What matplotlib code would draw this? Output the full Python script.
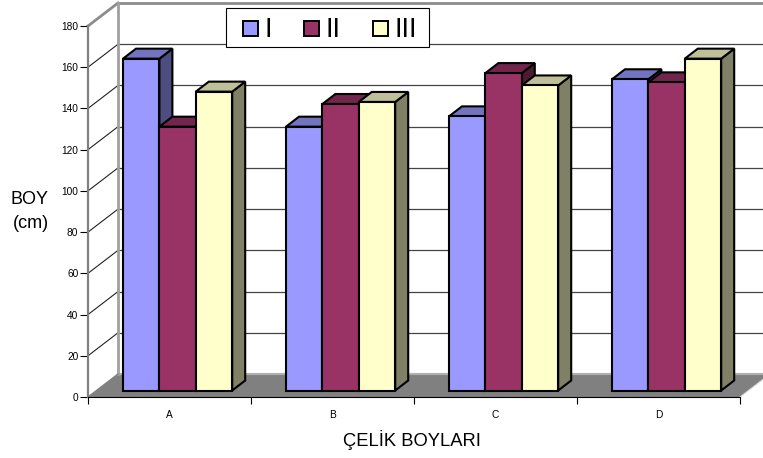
import matplotlib
matplotlib.use("Agg")
import matplotlib.pyplot as plt
from matplotlib.patches import Patch, Rectangle
from matplotlib.legend_handler import HandlerPatch

plt.rcParams['font.family'] = ['Liberation Sans', 'DejaVu Sans']

categories = ['A', 'B', 'C', 'D']
series_names = ['I', 'II', 'III']
values_I = [161, 128, 133, 151]
values_II = [128, 139, 154, 149.5]
values_III = [145, 140, 148, 161]
yticks = list(range(0, 181, 20))

front_colors = ['#9999FF', '#993366', '#FFFFCC']
top_colors = ['#7373BF', '#73264D', '#BFBF99']
side_colors = ['#4D4D80', '#4D1A33', '#808066']

W, H = 763, 458
X0, X1, Y0, Y180 = 88, 740, 397, 26
fig = plt.figure(figsize=(W / 100, H / 100), dpi=100, facecolor='white')
ax = fig.add_axes([X0 / W, 1 - Y0 / H, (X1 - X0) / W, (Y0 - Y180) / H])
ax.set_xlim(0, 4)
ax.set_ylim(0, 180)
ax.set_facecolor('none')

ux = (X1 - X0) / 4          # px per category
uy = (Y0 - Y180) / 180      # px per value unit
wall_dx, wall_dy = 30 / ux, 23 / uy
bar_dx, bar_dy = 13 / ux, 10 / uy
base_x, base_y = 8.5 / ux, 6.5 / uy
bar_w = 36.4 / ux
first = 35 / ux
right = 4 + wall_dx

# walls, floor and gridlines
ax.fill([0, wall_dx, right, 4, 0], [0, wall_dy, wall_dy, 0, 0], color='#808080', lw=0, clip_on=False, zorder=1)
ax.plot([wall_dx, right], [wall_dy, wall_dy], color='#B0B0B0', lw=1.5, clip_on=False, zorder=1.5)
for t in yticks[1:-1]:
    ax.plot([0, wall_dx], [t, t + wall_dy], color='#222222', lw=0.8, clip_on=False, zorder=1.2)
    ax.plot([wall_dx, right], [t + wall_dy, t + wall_dy], color='#444444', lw=0.9, clip_on=False, zorder=1.2)
ax.plot([wall_dx, right], [180 + wall_dy, 180 + wall_dy], color='#8C8C8C', lw=2, clip_on=False, zorder=1.5)
ax.plot([0, wall_dx], [180, 180 + wall_dy], color='#8C8C8C', lw=2, clip_on=False, zorder=1.5)
ax.plot([wall_dx, wall_dx], [wall_dy, 180 + wall_dy], color='#A0A0A0', lw=2, clip_on=False, zorder=1.5)
ax.plot([0, wall_dx], [0, wall_dy], color='#808080', lw=1, clip_on=False, zorder=1.5)
ax.plot([4, right], [0, wall_dy], color='#D8D8D8', lw=0.8, clip_on=False, zorder=1.5)

# 3-D bars, painted left to right
z = 2.0
edge = dict(edgecolor='black', linewidth=1.5, joinstyle='miter', clip_on=False)
for c in range(len(categories)):
    for s, vals in enumerate([values_I, values_II, values_III]):
        v = vals[c]
        l = c + first + s * bar_w
        r = l + bar_w
        b = base_y
        t = base_y + v
        ax.fill([r, r + bar_dx, r + bar_dx, r], [b, b + bar_dy, t + bar_dy, t],
                facecolor=side_colors[s], zorder=z, **edge)
        ax.fill([l, l + bar_dx, r + bar_dx, r], [t, t + bar_dy, t + bar_dy, t],
                facecolor=top_colors[s], zorder=z + 0.01, **edge)
        ax.bar(l, v, width=bar_w, bottom=b, align='edge', facecolor=front_colors[s], zorder=z + 0.02, **edge)
        z += 0.1

# axes
for k in ('top', 'right'):
    ax.spines[k].set_visible(False)
ax.spines['left'].set_color('#808080')
ax.spines['left'].set_linewidth(1.6)
ax.spines['bottom'].set_color('black')
ax.spines['bottom'].set_linewidth(0.8)
ax.spines['left'].set_zorder(1.6)
ax.set_yticks(yticks)
ax.tick_params(axis='y', labelsize=7.3, length=5.5, width=0.8, pad=1.5)
ax.set_xticks(range(len(categories) + 1))
ax.set_xticklabels([])
ax.tick_params(axis='x', which='major', length=5, width=0.8)
ax.set_xticks([i + 0.5 for i in range(len(categories))], minor=True)
ax.set_xticklabels(categories, minor=True)
ax.tick_params(axis='x', which='minor', length=0, labelsize=7.3, pad=9)

fig.text(29 / W, 1 - 199 / H, 'BOY', ha='center', va='center', fontsize=13)
fig.text(31 / W, 1 - 224 / H, '(cm)', ha='center', va='center', fontsize=13)
fig.text(412 / W, 1 - 440 / H, 'ÇELİK BOYLARI', ha='center', va='center', fontsize=13.2)


class Square(HandlerPatch):
    def create_artists(self, legend, orig, xd, yd, width, height, fontsize, trans):
        p = plt.Rectangle((8, 0.5), 11, 11, facecolor=orig.get_facecolor(),
                          edgecolor='black', linewidth=1.4, transform=trans)
        return [p]


# legend frame drawn on its own so the box can be sized independently of its contents
ax.add_patch(Rectangle((226 / W, 1 - 47 / H), 203 / W, 39 / H, transform=fig.transFigure,
                       facecolor='white', edgecolor='black', linewidth=0.8,
                       clip_on=False, zorder=19))
handles = [Patch(facecolor=col, label=n) for col, n in zip(front_colors, series_names)]
leg = ax.legend(handles=handles, ncol=3, loc='upper left',
                bbox_to_anchor=(226 / W, 1 - 11 / H), bbox_transform=fig.transFigure,
                frameon=False, prop={'size': 19.5}, borderaxespad=0, borderpad=0.22,
                handlelength=1.03, handletextpad=0.175, columnspacing=0.775,
                handler_map={Patch: Square()})
leg.set_zorder(20)

fig.savefig('out.png', dpi=100)
